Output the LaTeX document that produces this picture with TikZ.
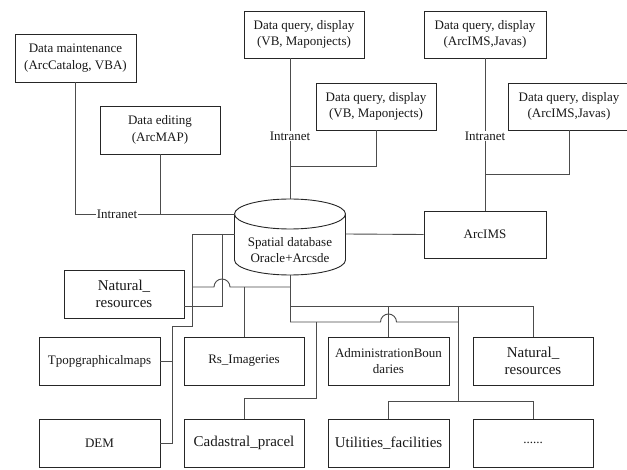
\documentclass[tikz,border=0pt]{standalone}
\usepackage{fontspec}
\setmainfont{Liberation Serif}
\begin{document}
\begin{tikzpicture}[x=1pt,y=-1pt,
  box/.style={draw=black!85, line width=0.9pt, minimum width=121pt, minimum height=48pt, inner sep=1pt, align=center, font=\fontsize{13}{16.7}\selectfont, text=black!90},
  big/.style={font=\fontsize{15}{17.5}\selectfont},
  conn/.style={draw=black!70, line width=0.9pt},
  lab/.style={fill=white, inner sep=1pt, font=\fontsize{13}{15}\selectfont, text=black!90},
  dbshape/.style={draw=black!85, line width=0.9pt, fill=white}]
\useasboundingbox (0,0) rectangle (627,470);
\fill[white] (0,0) rectangle (627,470);

% ---------- top nodes ----------
\node[box] (maint) at (75.5,58) {Data maintenance\\(ArcCatalog, VBA)};
\node[box, minimum width=120pt] (edit) at (160,130) {Data editing\\(ArcMAP)};
\node[box, minimum width=120pt, minimum height=47pt] (vb1) at (304,34.5) {Data query, display\\(VB, Maponjects)};
\node[box, minimum width=120pt, minimum height=47pt] (vb2) at (376,106.5) {Data query, display\\(VB, Maponjects)};
\node[box, minimum width=122pt, minimum height=47pt] (ims1) at (485,34.5) {Data query, display\\(ArcIMS,Javas)};
\node[box, minimum width=122pt, minimum height=47pt] (ims2) at (569,106.5) {Data query, display\\(ArcIMS,Javas)};
\node[box, minimum width=122pt, minimum height=47pt] (arcims) at (485,234.5) {ArcIMS};

% ---------- database cylinder ----------
\draw[dbshape] (234.5,214) -- (234.5,260) arc[start angle=180, end angle=360, x radius=55.5pt, y radius=15pt] -- (345.5,214);
\draw[dbshape] (290,214) ellipse[x radius=55.5pt, y radius=15pt];
\node[font=\fontsize{13}{16.7}\selectfont, align=center, text=black!90] (db) at (290,250) {Spatial database\\Oracle+Arcsde};
\coordinate (dbT) at (290,199);
\coordinate (dbL) at (234.5,214);
\coordinate (dbL2) at (234.5,234);
\coordinate (dbR) at (345.5,234);
\coordinate (dbB) at (290,275);

% ---------- bottom nodes ----------
\node[box, big, minimum width=120pt] (natL) at (124,294) {Natural\_\\resources};
\node[box] (tpop) at (99.5,361) {Tpopgraphicalmaps};
\node[box] (dem) at (99.5,443) {DEM};
\node[box, minimum width=120pt] (rs) at (244,361) {Rs\_Imageries};
\node[box, big, minimum width=120pt] (cad) at (244,443) {Cadastral\_pracel};
\node[box] (adm) at (388.5,361) {AdministrationBoun\\daries};
\node[box, big, minimum width=120pt] (natR) at (533,361) {Natural\_\\resources};
\node[box, big] (util) at (388.5,443) {Utilities\_facilities};
\node[box, minimum width=120pt] (dots) at (533,443) {......};

% ---------- junction coordinates ----------
\coordinate (jMaint) at (75.5,214);
\coordinate (jEdit) at (160,214);
\coordinate (jVB) at (290,166);
\coordinate (jIMS) at (485,174);
\coordinate (jL1) at (192,234);
\coordinate (jL2) at (192,326);
\coordinate (jL3) at (172,326);
\coordinate (jL4) at (172,443);
\coordinate (jTp) at (172,361);
\coordinate (jN1) at (222,234);
\coordinate (jN2) at (222,306);
\coordinate (jB1) at (290,287);
\coordinate (jH1) at (230,287);
\coordinate (jB1L) at (192,287);
\coordinate (jRs) at (244,287);
\coordinate (jB2) at (290,306);
\coordinate (jB2R) at (533,306);
\coordinate (jAdm) at (388.5,306);
\coordinate (jV1) at (458,306);
\coordinate (jV2) at (458,401);
\coordinate (jU) at (388.5,401);
\coordinate (jD) at (533,401);
\coordinate (jB3) at (290,322);
\coordinate (jH2) at (380.5,322);
\coordinate (jB3R) at (458,322);
\coordinate (jC1) at (316,322);
\coordinate (jC2) at (316,398);
\coordinate (jC3) at (244,398);

% ---------- top connectors ----------
\draw[conn] (maint.south) -- (jMaint) -- (dbL);
\draw[conn] (edit.south) -- (jEdit);
\draw[conn] (vb1.south -| dbT) -- (dbT);
\draw[conn] (vb2.south) |- (jVB);
\draw[conn] (ims1.south) -- (arcims.north);
\draw[conn] (ims2.south) |- (jIMS);
\draw[conn] (dbR) -- (arcims.west);
\node[lab] (in1) at (117,214) {Intranet};
\node[lab] (in2) at (290,136) {Intranet};
\node[lab] (in3) at (485,136) {Intranet};

% ---------- bottom connectors ----------
\draw[conn] (dbL2) -- (jL1) -- (jL2) -- (jL3) -- (jL4) -- (dem.east);
\draw[conn] (tpop.east) -- (jTp);
\draw[conn] (jN1) -- (jN2) -- (natL.east |- jN2);
\draw[conn] (dbB) -- (jB3);
\draw[conn] (jB1) -- (jH1) arc[start angle=0, end angle=180, radius=8pt] -- (jB1L);
\draw[conn] (jRs) -- (rs.north);
\draw[conn] (jB2) -- (jB2R) -- (natR.north);
\draw[conn] (jAdm) -- (adm.north);
\draw[conn] (jV1) -- (jV2);
\draw[conn] (util.north) -- (jU) -- (jD) -- (dots.north);
\draw[conn] (jB3) -- (jH2) arc[start angle=180, end angle=0, radius=8pt] -- (jB3R);
\draw[conn] (jC1) -- (jC2) -- (jC3) -- (cad.north);
\end{tikzpicture}
\end{document}
